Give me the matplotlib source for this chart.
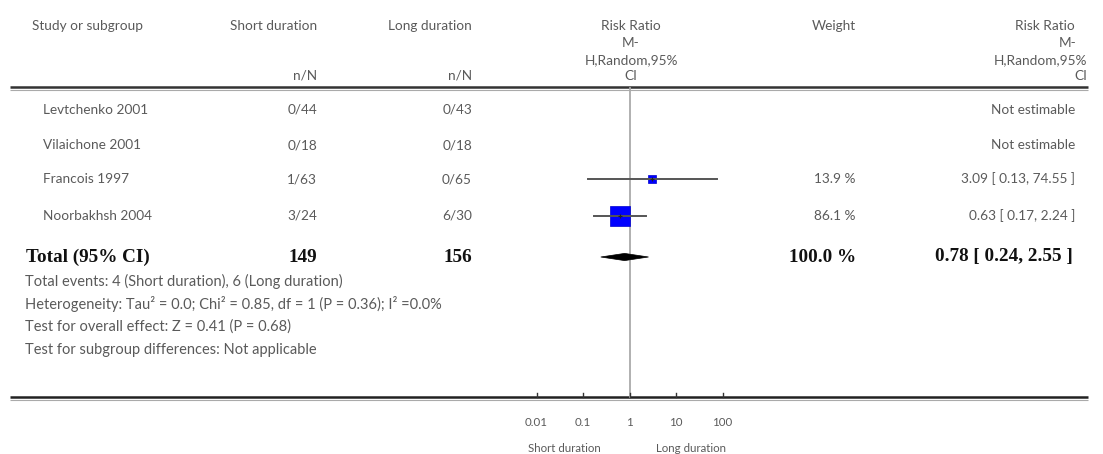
import matplotlib
matplotlib.use("Agg")
import matplotlib.pyplot as plt
import numpy as np
from matplotlib.patches import Polygon

# ---------------- data ----------------
studies = ["Levtchenko 2001", "Vilaichone 2001", "Francois 1997", "Noorbakhsh 2004"]
short_events = ["0/44", "0/18", "1/63", "3/24"]
long_events = ["0/43", "0/18", "0/65", "6/30"]
rr = [None, None, 3.09, 0.63]
rr_low = [None, None, 0.13, 0.17]
rr_high = [None, None, 74.55, 2.24]
weights = [None, None, 13.9, 86.1]
total_short = 149
total_long = 156
total_rr = 0.78
total_low = 0.24
total_high = 2.55
total_weight = 100.0
footnotes = [
    "Total events: 4 (Short duration), 6 (Long duration)",
    "Heterogeneity: Tau\u00b2 = 0.0; Chi\u00b2 = 0.85, df = 1 (P = 0.36); I\u00b2 =0.0%",
    "Test for overall effect: Z = 0.41 (P = 0.68)",
    "Test for subgroup differences: Not applicable",
]
tick_values = [0.01, 0.1, 1, 10, 100]
tick_labels = ["0.01", "0.1", "1", "10", "100"]
rr_header = ["Risk Ratio", "M-", "H,Random,95%", "CI"]

# ---------------- layout ----------------
W, H = 1103, 454
fig = plt.figure(figsize=(W / 100, H / 100), dpi=100)
fig.patch.set_facecolor("white")

ax = fig.add_axes([0, 0, 1, 1])
ax.set_xlim(0, W)
ax.set_ylim(H, 0)
ax.axis("off")

# forest plot axes: x=1 at pixel 629.6, 46.5 px per decade
px_dec = 46.5
x1 = 629.6
left = x1 - 2.5 * px_dec
fx = fig.add_axes([left / W, 0, 5 * px_dec / W, 1])
fx.set_xscale("log")
fx.set_xlim(10 ** -2.5, 10 ** 2.5)
fx.set_ylim(H, 0)
fx.axis("off")
fx.patch.set_alpha(0)

FONT = "Lato"
GREY = "#5a5a5a"
fs = 9.8
fs_foot = 10.5
SERIF = "Liberation Serif"
fsb = 13.8

row_y = [110, 145, 179, 216]
total_y = 257
foot_y = [281, 304, 327, 350]

X_NAME = 43
X_SHORT = 317
X_LONG = 472
X_WEIGHT = 856
X_RR = 1075


def t(x, y, s, ha="left", **kw):
    kw.setdefault("fontsize", fs)
    kw.setdefault("color", GREY)
    kw.setdefault("family", FONT)
    ax.text(x, y, s, ha=ha, va="center", **kw)


# header
t(32, 26, "Study or subgroup")
t(X_SHORT, 26, "Short duration", ha="right")
t(X_LONG, 26, "Long duration", ha="right")
t(X_SHORT, 76, "n/N", ha="right")
t(X_LONG, 76, "n/N", ha="right")
hdr_y = [26, 43, 60, 76]
right_hdr_x = [X_RR, X_RR + 2, X_RR + 12, X_RR + 12]
for s, y, xr in zip(rr_header, hdr_y, right_hdr_x):
    t(631, y, s, ha="center")
    t(xr, y, s, ha="right")
t(X_WEIGHT, 26, "Weight", ha="right")

# rules
for yy, lw, c in [(87, 1.8, "#333333"), (89.8, 0.8, "#aaaaaa"),
                  (397, 1.8, "#222222"), (399.8, 0.8, "#aaaaaa")]:
    ax.plot([10, 1088], [yy, yy], color=c, lw=lw, solid_capstyle="butt")

# vertical line of no effect
fx.plot([1, 1], [88, 397], color="#aaaaaa", lw=1.3, zorder=1)

# study rows
for i, name in enumerate(studies):
    y = row_y[i]
    t(X_NAME, y, name)
    t(X_SHORT, y, short_events[i], ha="right")
    t(X_LONG, y, long_events[i], ha="right")
    if rr[i] is None:
        t(X_RR, y, "Not estimable", ha="right")
    else:
        t(X_WEIGHT, y, f"{weights[i]:.1f} %", ha="right")
        t(X_RR, y, f"{rr[i]:.2f} [ {rr_low[i]:.2f}, {rr_high[i]:.2f} ]", ha="right")
        side_px = 2.05 * np.sqrt(weights[i])
        fx.plot([rr[i]], [y], marker="s", ms=side_px * 0.72, color="#0000ff",
                mec="#0000cc", mew=0.5, zorder=2)
        fx.plot([rr_low[i], rr_high[i]], [y, y], color="#555555", lw=1.4, zorder=3)
        fx.plot([rr[i]], [y], marker="+", ms=3, color="#222222", mew=0.8, zorder=4)

# total row
bold = dict(fontsize=fsb, color="#111111", family=SERIF, weight="bold")
t(26, total_y, "Total (95% CI)", **bold)
t(X_SHORT, total_y, str(total_short), ha="right", **bold)
t(X_LONG, total_y, str(total_long), ha="right", **bold)
t(X_WEIGHT, total_y, f"{total_weight:.1f} %", ha="right", **bold)
t(X_RR - 2, total_y, f"{total_rr:.2f} [ {total_low:.2f}, {total_high:.2f} ]", ha="right", **bold)
dh = 3.6
fx.add_patch(Polygon([(total_low, total_y), (total_rr, total_y - dh), (total_high, total_y),
                      (total_rr, total_y + dh)], closed=True, facecolor="black",
                     edgecolor="black", lw=0.5, zorder=3))

# footnotes
for s, y in zip(footnotes, foot_y):
    t(25, y, s, fontsize=fs_foot)

# axis ticks and labels
for v, lab in zip(tick_values, tick_labels):
    fx.plot([v, v], [393, 397], color="#333333", lw=1.0)
    fx.text(v, 422, lab, fontsize=8.3, color=GREY, family=FONT, va="center", ha="center")
fx.text(10 ** -1.4, 448, "Short duration", fontsize=8.3, color=GREY, family=FONT, va="center", ha="center")
fx.text(10 ** 1.32, 448, "Long duration", fontsize=8.3, color=GREY, family=FONT, va="center", ha="center")

fig.savefig("out.png", dpi=100, facecolor="white")
